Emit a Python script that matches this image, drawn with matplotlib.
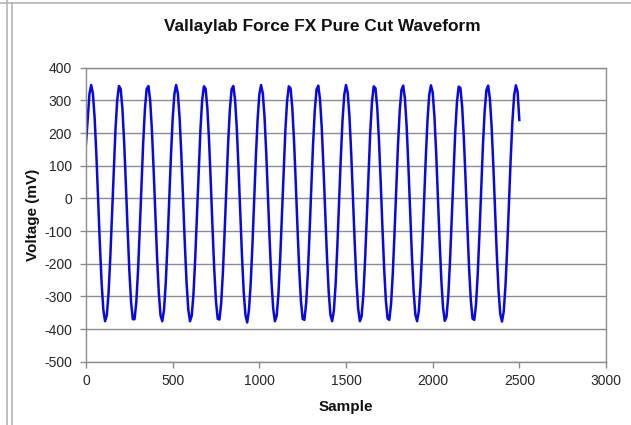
import numpy as np
import matplotlib
matplotlib.use("Agg")
import matplotlib.pyplot as plt
from matplotlib.lines import Line2D

# ---- data ----
samples = list(range(0, 2501, 10))
voltage_mv = [
    168, 245, 320, 347, 320, 245, 132, -3, -140, -258,
    -341, -376, -358, -291, -183, -50, 87, 210, 300, 344,
    335, 275, 173, 44, -94, -221, -317, -370, -370, -319,
    -224, -97, 41, 171, 274, 335, 344, 301, 212, 90,
    -48, -180, -289, -358, -376, -342, -260, -142, -6, 129,
    243, 319, 347, 321, 247, 134, -1, -137, -256, -340,
    -376, -359, -293, -185, -53, 85, 208, 299, 343, 336,
    277, 176, 47, -92, -219, -316, -369, -371, -320, -225,
    -100, 38, 169, 272, 334, 344, 302, 214, 92, -45,
    -178, -287, -357, -380, -343, -262, -145, -9, 127, 241,
    318, 347, 322, 249, 137, 2, -134, -254, -338, -376,
    -360, -294, -188, -56, 82, 206, 297, 343, 337, 279,
    178, 50, -89, -217, -314, -369, -372, -322, -228, -103,
    36, 166, 270, 333, 345, 304, 217, 95, -42, -176,
    -285, -356, -376, -344, -264, -147, -12, 124, 239, 317,
    347, 323, 250, 139, 5, -132, -252, -337, -376, -361,
    -296, -190, -59, 80, 204, 296, 343, 337, 280, 180,
    52, -86, -214, -313, -368, -372, -323, -230, -105, 33,
    164, 269, 332, 345, 305, 219, 98, -39, -173, -283,
    -355, -376, -345, -266, -150, -14, 121, 237, 316, 346,
    325, 252, 142, 8, -129, -250, -336, -375, -362, -298,
    -193, -61, 77, 201, 294, 342, 338, 282, 183, 55,
    -84, -212, -311, -368, -372, -325, -232, -108, 30, 162,
    267, 331, 345, 306, 221, 100, -37, -171, -282, -354,
    -377, -346, -268, -152, -17, 119, 235, 315, 346, 326,
    240,
]
x_ticks = [0, 500, 1000, 1500, 2000, 2500, 3000]
y_ticks = [400, 300, 200, 100, 0, -100, -200, -300, -400, -500]
title = "Vallaylab Force FX Pure Cut Waveform"
x_label = "Sample"
y_label = "Voltage (mV)"

plt.rcParams['font.family'] = ['Liberation Sans', 'DejaVu Sans']
plt.rcParams['axes.unicode_minus'] = False

W, H = 631, 425
fig = plt.figure(figsize=(W / 100, H / 100), dpi=100)
fig.patch.set_facecolor('white')

left, right, top, bottom = 86, 606, 67.7, 361.7
pw, ph = right - left, bottom - top
ax = fig.add_axes([left / W, 1 - bottom / H, pw / W, ph / H])

grid_c = '#8c8c8c'
ax.plot(samples, voltage_mv, color='#0808e6', lw=1.8, solid_joinstyle='round')
ax.set_xlim(0, 3000)
ax.set_ylim(-500, 400)
ax.set_xticks(x_ticks)
ax.set_yticks(y_ticks)
ax.yaxis.grid(True, color=grid_c, lw=1.0)
ax.set_axisbelow(True)
for s in ax.spines.values():
    s.set_color(grid_c)
    s.set_linewidth(1.0)
ax.tick_params(axis='both', direction='out', length=4, width=1.0, color=grid_c,
               labelsize=10, labelcolor='#262626')
ax.tick_params(axis='y', pad=6)
ax.tick_params(axis='x', pad=5)

ax.set_xlabel(x_label, fontsize=11, fontweight='bold', color='#111111')
ax.set_ylabel(y_label, fontsize=11, fontweight='bold', color='#111111')
ax.xaxis.label.set_va('center')
ax.yaxis.label.set_va('center')
ax.xaxis.set_label_coords(0.5, -(407 - bottom) / ph)
ax.yaxis.set_label_coords(-(left - 33) / pw, 0.5)

fig.text(322 / W, 1 - 27 / H, title, ha='center', va='center', fontsize=12.4,
         fontweight='bold', color='#111111')

# window / chart-area borders
bc = '#b4b4b4'
fig.add_artist(Line2D([7 / W, 7 / W], [0, 1], transform=fig.transFigure, color=bc, lw=1.2))
fig.add_artist(Line2D([12 / W, 12 / W], [0, 1 - 3 / H], transform=fig.transFigure, color=bc, lw=1.2))
fig.add_artist(Line2D([0, 1], [1 - 3 / H, 1 - 3 / H], transform=fig.transFigure, color=bc, lw=1.2))

fig.savefig('out.png', dpi=100, facecolor='white')
